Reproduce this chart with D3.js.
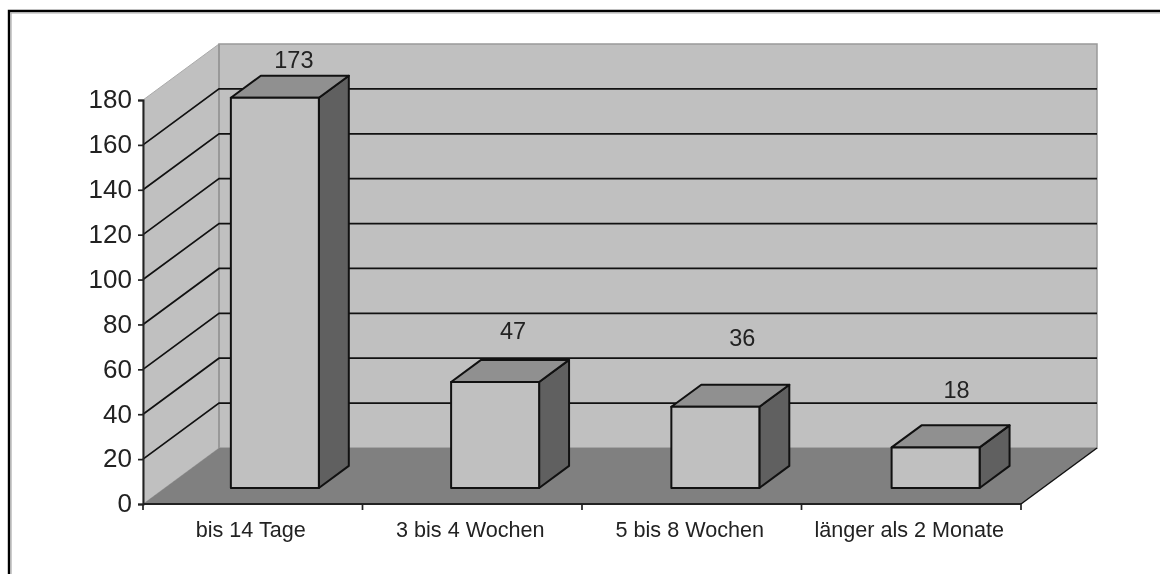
<!DOCTYPE html>
<html><head><meta charset="utf-8"><script src="https://cdn.jsdelivr.net/npm/d3@7"></script>
<style>html,body{margin:0;background:#fff}svg{display:block;filter:blur(0.4px)}text{font-family:"Liberation Sans",Arial,sans-serif;fill:#222}</style></head><body>
<svg id="c" width="1160" height="574"></svg>
<script>
const categories = ["bis 14 Tage","3 bis 4 Wochen","5 bis 8 Wochen","länger als 2 Monate"];
const values = [173,47,36,18];
const yTicks = [0,20,40,60,80,100,120,140,160,180];

// layout: hand placement of the value labels relative to the bar's front top edge
const labelDx = [19,18,27,21];
const labelDy = [30,43,61,49];

const svg = d3.select("#c");
const depth = {x:76,y:-56};
const front = {l:143,r:1021};
const y = d3.scaleLinear().domain([0,180]).range([504,100]);
const yBar = d3.scaleLinear().domain([0,180]).range([504,98]);
const x = d3.scaleBand().domain(categories).range([front.l,front.r]);
const xBar = d3.scaleBand().domain(categories).range([front.l,1024]);
const P = (px,v,t,sc=y)=>[px+depth.x*t, sc(v)+depth.y*t];
const poly = pts => pts.map(p=>p.join(",")).join(" ");
const line = "#111";

// frame
svg.append("path").attr("d","M9,574V11H1160").attr("fill","none").attr("stroke","#000").attr("stroke-width",2.4);
svg.append("path").attr("d","M11,574V13H1160").attr("fill","none").attr("stroke","#aaa").attr("stroke-width",1.2);

// walls and floor
svg.append("polygon").attr("points",poly([P(front.l,0,1),P(front.r,0,1),P(front.r,180,1),P(front.l,180,1)])).attr("fill","#c0c0c0").attr("stroke","#999").attr("stroke-width",1.5);
svg.append("polygon").attr("points",poly([P(front.l,0,0),P(front.l,0,1),P(front.l,180,1),P(front.l,180,0)])).attr("fill","#c0c0c0").attr("stroke","#aaa").attr("stroke-width",1);
svg.append("polygon").attr("points",poly([P(front.l,0,0),P(front.r,0,0),P(front.r,0,1),P(front.l,0,1)])).attr("fill","#808080");
svg.append("line").attr("x1",P(front.l,0,1)[0]).attr("x2",P(front.l,0,1)[0]).attr("y1",P(front.l,0,1)[1]).attr("y2",P(front.l,180,1)[1]).attr("stroke","#999").attr("stroke-width",2);

// gridlines
const gt = yTicks.filter(v=>v>0&&v<180);
svg.selectAll(".gb").data(gt).join("polyline").attr("class","gb").attr("fill","none").attr("stroke",line).attr("stroke-width",1.7)
  .attr("points",v=>poly([P(front.l,v,0),P(front.l,v,1),P(front.r,v,1)]));
// right floor edge
svg.append("line").attr("x1",P(front.r,0,0)[0]).attr("y1",P(front.r,0,0)[1]).attr("x2",P(front.r,0,1)[0]).attr("y2",P(front.r,0,1)[1]).attr("stroke",line).attr("stroke-width",1.5);

// bars
const t0 = 0.286, t1 = 0.68;
const bw = 88;
const g = svg.selectAll(".bar").data(categories.map((c,i)=>({c,v:values[i],i}))).join("g").attr("class","bar");
const lx = d=>xBar(d.c)+xBar.bandwidth()/2-bw/2;
const rx = d=>lx(d)+bw;
const face = (fill,pts)=>g.append("polygon").attr("fill",fill).attr("stroke",line).attr("stroke-width",2).attr("stroke-linejoin","round").attr("points",d=>poly(pts(d)));
face("#606060",d=>[P(rx(d),0,t0,yBar),P(rx(d),0,t1,yBar),P(rx(d),d.v,t1,yBar),P(rx(d),d.v,t0,yBar)]);
face("#909090",d=>[P(lx(d),d.v,t0,yBar),P(rx(d),d.v,t0,yBar),P(rx(d),d.v,t1,yBar),P(lx(d),d.v,t1,yBar)]);
face("#c0c0c0",d=>[P(lx(d),0,t0,yBar),P(rx(d),0,t0,yBar),P(rx(d),d.v,t0,yBar),P(lx(d),d.v,t0,yBar)]);
g.append("text").attr("text-anchor","middle").attr("font-size",23.5)
  .attr("x",d=>P(lx(d)+bw/2,d.v,t0,yBar)[0]+labelDx[d.i]).attr("y",d=>P(lx(d),d.v,t0,yBar)[1]-labelDy[d.i]).text(d=>d.v);

// axes
const ax = svg.append("g").attr("transform",`translate(${front.l},0)`)
  .call(d3.axisLeft(y).tickValues(yTicks).tickSize(5).tickPadding(6));
ax.select(".domain").attr("stroke","#222").attr("stroke-width",2);
ax.selectAll(".tick line").attr("stroke","#222").attr("stroke-width",1.7);
ax.selectAll("text").attr("font-size",26).attr("fill","#222").attr("dy","0.3em");
ax.attr("font-family",null).attr("font-size",null);

const bx = d3.scaleLinear().domain([0,categories.length]).range([front.l,front.r]);
svg.append("line").attr("x1",front.l).attr("x2",front.r).attr("y1",y(0)).attr("y2",y(0)).attr("stroke","#222").attr("stroke-width",2);
svg.selectAll(".xt").data(d3.range(categories.length+1)).join("line").attr("class","xt")
  .attr("x1",d=>bx(d)).attr("x2",d=>bx(d)).attr("y1",y(0)).attr("y2",y(0)+6).attr("stroke","#222").attr("stroke-width",1.7);
svg.selectAll(".xl").data(categories).join("text").attr("class","xl").attr("text-anchor","middle").attr("font-size",21.6)
  .attr("x",c=>x(c)+x.bandwidth()/2-2).attr("y",537).text(c=>c);
</script></body></html>
